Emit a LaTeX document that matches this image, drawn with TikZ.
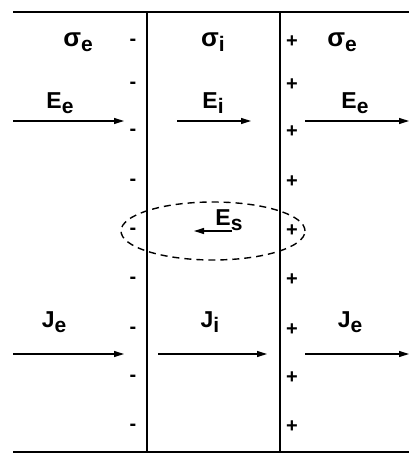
\documentclass[tikz,border=0pt]{standalone}
\usepackage{fontspec}
\setmainfont{Liberation Sans}
\usetikzlibrary{arrows.meta,shapes.geometric}
\newcommand{\qty}[2]{{\fontsize{23}{23}\selectfont\bfseries #1}{\fontsize{21}{21}\selectfont\bfseries\raisebox{-5pt}{#2}}}
\newcommand{\sgq}[2]{{\fontsize{26}{26}\selectfont\bfseries #1}{\fontsize{21}{21}\selectfont\bfseries\raisebox{-5pt}{#2}}}
\tikzset{
  wall/.style={line width=1.6pt},
  edge/.style={line width=2.2pt},
  vec/.style={line width=1.4pt,-{Triangle[length=10pt,width=6pt]}},
  lbl/.style={inner sep=0pt},
  chg/.style={inner sep=0pt,font=\fontsize{20}{20}\selectfont\bfseries},
}
\begin{document}
\begin{tikzpicture}[x=1pt,y=-1pt]
\useasboundingbox (0,0) rectangle (409,454);
% frame
\coordinate (tl) at (13,12); \coordinate (tr) at (409,12);
\coordinate (bl) at (13,452); \coordinate (br) at (409,452);
\coordinate (lt) at (147,12); \coordinate (lb) at (147,452);
\coordinate (rt) at (280,12); \coordinate (rb) at (280,452);
\draw[edge] (tl) -- (tr);
\draw[edge] (bl) -- (br);
\draw[wall] (lt) -- (lb);
\draw[wall] (rt) -- (rb);
% conductivities
\node[lbl] (se1) at (78,42) {\sgq{σ}{e}};
\node[lbl] (si) at (213,42) {\sgq{σ}{i}};
\node[lbl] (se2) at (342,42) {\sgq{σ}{e}};
% charges
\foreach \y [count=\k] in {42,85,132,182,231,280,330,378,427} {
  \node[chg] (m\k) at (133,\y) {-};
  \node[chg] (p\k) at (292,\y) {+};
}
% E field
\node[lbl] (Ee1) at (60,103) {\qty{E}{e}};
\node[lbl] (Ei) at (213,103) {\qty{E}{i}};
\node[lbl] (Ee2) at (355,103) {\qty{E}{e}};
\coordinate (a1s) at (13,121); \coordinate (a1e) at (124,121);
\coordinate (a2s) at (177,121); \coordinate (a2e) at (251,121);
\coordinate (a3s) at (305,121); \coordinate (a3e) at (409,121);
\draw[vec] (a1s) -- (a1e);
\draw[vec] (a2s) -- (a2e);
\draw[vec] (a3s) -- (a3e);
% Es
\node[draw,line width=1.4pt,ellipse,minimum width=184pt,minimum height=58pt,inner sep=0pt,dash pattern=on 7pt off 5pt] (ell) at (213,231) {};
\node[lbl] (Es) at (229,220) {\qty{E}{s}};
\coordinate (ess) at (232,231); \coordinate (ese) at (194,231);
\draw[vec] (ess) -- (ese);
% J
\node[lbl] (Je1) at (54,322) {\qty{J}{e}};
\node[lbl] (Ji) at (210,322) {\qty{J}{i}};
\node[lbl] (Je2) at (350,322) {\qty{J}{e}};
\coordinate (b1s) at (13,354); \coordinate (b1e) at (124,354);
\coordinate (b2s) at (158,354); \coordinate (b2e) at (267,354);
\coordinate (b3s) at (305,354); \coordinate (b3e) at (409,354);
\draw[vec] (b1s) -- (b1e);
\draw[vec] (b2s) -- (b2e);
\draw[vec] (b3s) -- (b3e);
\end{tikzpicture}
\end{document}
